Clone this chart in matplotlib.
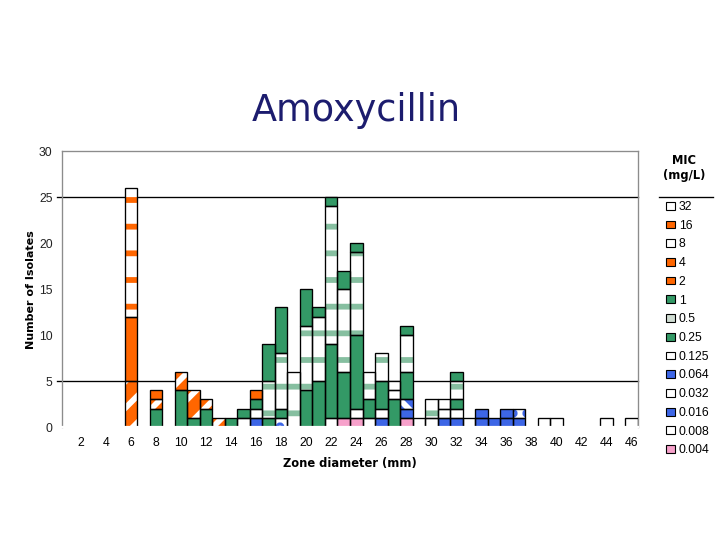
import matplotlib
matplotlib.use('Agg')
import matplotlib.pyplot as plt
from matplotlib.patches import Patch
from matplotlib.lines import Line2D
import numpy as np

# ---------------- data ----------------
zones = list(range(1, 47))
xtick_labels = list(range(2, 47, 2))
mic_labels = ['0.004', '0.008', '0.016', '0.032', '0.064', '0.125', '0.25',
              '0.5', '1', '2', '4', '8', '16', '32']

#            z: 1  2  3  4  5  6  7  8  9 10 11 12 13 14 15 16 17 18 19 20 21 22 23 24 25 26 27 28 29 30 31 32 33 34 35 36 37 38 39 40 41 42 43 44 45 46
mic_0_004 = [0, 0, 0, 0, 0, 0, 0, 0, 0, 0, 0, 0, 0, 0, 0, 0, 0, 0, 0, 0, 0, 0, 1, 1, 0, 0, 0, 1, 0, 0, 0, 0, 0, 0, 0, 0, 0, 0, 0, 0, 0, 0, 0, 0, 0, 0]
mic_0_008 = [0, 0, 0, 0, 0, 0, 0, 0, 0, 0, 0, 0, 0, 0, 0, 0, 0, 0, 0, 0, 0, 0, 0, 1, 0, 0, 0, 0, 0, 0, 0, 0, 1, 0, 0, 0, 0, 0, 1, 1, 0, 0, 0, 1, 0, 1]
mic_0_016 = [0, 0, 0, 0, 0, 0, 0, 0, 0, 0, 0, 0, 0, 0, 0, 1, 0, 0, 0, 0, 0, 0, 0, 0, 0, 0, 0, 1, 0, 0, 1, 1, 0, 1, 1, 1, 1, 0, 0, 0, 0, 0, 0, 0, 0, 0]
mic_0_032 = [0, 0, 0, 0, 0, 0, 0, 0, 0, 0, 0, 0, 0, 0, 0, 0, 0, 1, 0, 0, 0, 0, 0, 0, 0, 0, 0, 0, 0, 0, 0, 0, 0, 0, 0, 0, 1, 0, 0, 0, 0, 0, 0, 0, 0, 0]
mic_0_064 = [0, 0, 0, 0, 0, 0, 0, 0, 0, 0, 0, 0, 0, 0, 0, 0, 0, 0, 0, 0, 0, 0, 0, 0, 0, 1, 0, 1, 0, 0, 0, 0, 0, 1, 0, 1, 0, 0, 0, 0, 0, 0, 0, 0, 0, 0]
mic_0_125 = [0, 0, 0, 0, 0, 0, 0, 0, 0, 0, 0, 0, 0, 0, 1, 1, 0, 0, 0, 0, 0, 1, 0, 0, 1, 1, 0, 0, 1, 1, 1, 1, 0, 0, 0, 0, 0, 0, 0, 0, 0, 0, 0, 0, 0, 0]
mic_0_25  = [0, 0, 0, 0, 0, 0, 0, 0, 0, 0, 0, 0, 0, 0, 0, 1, 1, 1, 0, 4, 5, 8, 5, 8, 2, 3, 3, 3, 0, 0, 0, 1, 0, 0, 0, 0, 0, 0, 0, 0, 0, 0, 0, 0, 0, 0]
mic_0_5   = [0, 0, 0, 0, 0, 0, 0, 0, 0, 0, 0, 0, 0, 0, 0, 0, 4, 6, 6, 7, 7, 15, 9, 9, 3, 3, 1, 4, 0, 2, 1, 2, 0, 0, 0, 0, 0, 0, 0, 0, 0, 0, 0, 0, 0, 0]
mic_1     = [0, 0, 0, 0, 0, 0, 0, 2, 0, 4, 1, 2, 0, 1, 1, 0, 4, 5, 0, 4, 1, 1, 2, 1, 0, 0, 0, 1, 0, 0, 0, 1, 0, 0, 0, 0, 0, 0, 0, 0, 0, 0, 0, 0, 0, 0]
mic_2     = [0, 0, 0, 0, 0, 5, 0, 1, 0, 2, 3, 1, 1, 0, 0, 0, 0, 0, 0, 0, 0, 0, 0, 0, 0, 0, 0, 0, 0, 0, 0, 0, 0, 0, 0, 0, 0, 0, 0, 0, 0, 0, 0, 0, 0, 0]
mic_4     = [0, 0, 0, 0, 0, 0, 0, 1, 0, 0, 0, 0, 0, 0, 0, 1, 0, 0, 0, 0, 0, 0, 0, 0, 0, 0, 0, 0, 0, 0, 0, 0, 0, 0, 0, 0, 0, 0, 0, 0, 0, 0, 0, 0, 0, 0]
mic_8     = [0, 0, 0, 0, 0, 0, 0, 0, 0, 0, 0, 0, 0, 0, 0, 0, 0, 0, 0, 0, 0, 0, 0, 0, 0, 0, 1, 0, 0, 0, 0, 0, 0, 0, 0, 0, 0, 0, 0, 0, 0, 0, 0, 0, 0, 0]
mic_16    = [0, 0, 0, 0, 0, 7, 0, 0, 0, 0, 0, 0, 0, 0, 0, 0, 0, 0, 0, 0, 0, 0, 0, 0, 0, 0, 0, 0, 0, 0, 0, 0, 0, 0, 0, 0, 0, 0, 0, 0, 0, 0, 0, 0, 0, 0]
mic_32    = [0, 0, 0, 0, 0, 14, 0, 0, 0, 0, 0, 0, 0, 0, 0, 0, 0, 0, 0, 0, 0, 0, 0, 0, 0, 0, 0, 0, 0, 0, 0, 0, 0, 0, 0, 0, 0, 0, 0, 0, 0, 0, 0, 0, 0, 0]

series = [mic_0_004, mic_0_008, mic_0_016, mic_0_032, mic_0_064, mic_0_125,
          mic_0_25, mic_0_5, mic_1, mic_2, mic_4, mic_8, mic_16, mic_32]

# ---------------- styles ----------------
GREEN = '#339966'
ORANGE = '#FF6600'
BLUE = '#3D66E6'
PINK = '#F7A1CB'
CHECK = '#86BFA0'
# face colour, hatch, hatch colour, legend swatch colour
styles = {
    '0.004': (PINK, None, PINK, PINK),
    '0.008': ('white', None, 'white', 'white'),
    '0.016': (BLUE, None, BLUE, BLUE),
    '0.032': ('white', '..', BLUE, 'white'),
    '0.064': (BLUE, '\\', 'white', BLUE),
    '0.125': ('white', None, 'white', 'white'),
    '0.25': (GREEN, None, GREEN, GREEN),
    '0.5': ('white', '-', CHECK, '#CFDCD2'),
    '1': (GREEN, None, GREEN, GREEN),
    '2': (ORANGE, '//', 'white', ORANGE),
    '4': (ORANGE, None, ORANGE, ORANGE),
    '8': ('white', None, 'white', 'white'),
    '16': (ORANGE, None, ORANGE, ORANGE),
    '32': ('white', '-', ORANGE, 'white'),
}

plt.rcParams['hatch.linewidth'] = 2.6
plt.rcParams['font.family'] = ['DejaVu Sans']

fig = plt.figure(figsize=(4.5, 3.375), dpi=160)
ax = fig.add_axes([62 / 720, 1 - 427 / 540, 576 / 720, 276 / 540])

x = np.array(zones)
bottom = np.zeros(len(zones))
for lab, vals in zip(mic_labels, series):
    v = np.array(vals, dtype=float)
    m = v > 0
    face, hatch, hc, _ = styles[lab]
    if m.any():
        ax.bar(x[m], v[m], width=1.0, bottom=bottom[m], color=face,
               edgecolor=hc, hatch=hatch, linewidth=0, zorder=2)
        ax.bar(x[m], v[m], width=1.0, bottom=bottom[m], facecolor='none',
               edgecolor='black', linewidth=0.6, zorder=3)
    bottom += v

# gridlines at 5 and 25 (behind bars)
for yv in (5, 25):
    ax.axhline(yv, xmin=-0.008, xmax=1, color='black', linewidth=0.6,
               zorder=1, clip_on=False)

ax.set_xlim(0.5, 46.5)
ax.set_ylim(0, 30)
ax.set_xticks(xtick_labels)
ax.set_xticklabels([str(t) for t in xtick_labels])
ax.set_yticks(range(0, 31, 5))
ax.tick_params(axis='both', length=0, labelsize=5.5)
ax.tick_params(axis='y', pad=4.2, labelcolor='#222222')
ax.tick_params(axis='x', pad=4.5)
for lbl in ax.get_xticklabels() + ax.get_yticklabels():
    lbl.set_fontfamily('Liberation Sans')

for s in ('left', 'top', 'right'):
    ax.spines[s].set_color('#8C8C8C')
    ax.spines[s].set_linewidth(0.6)
ax.spines['bottom'].set_color('white')
ax.spines['bottom'].set_linewidth(1.0)
ax.spines['bottom'].set_zorder(4)

# titles
fig.text(356 / 720, 1 - 111 / 540, 'Amoxycillin', ha='center', va='center',
         fontsize=16.5, color='#1C1C6E')
fig.text(31 / 720, 1 - 290 / 540, 'Number of Isolates', rotation=90,
         ha='center', va='center', fontsize=5.0, fontweight='bold')
fig.text(350 / 720, 1 - 463 / 540, 'Zone diameter (mm)', ha='center',
         va='center', fontsize=5.2, fontweight='bold')

# legend
fig.text(684 / 720, 1 - 160 / 540, 'MIC', ha='center', va='center',
         fontsize=5.2, fontweight='bold')
fig.text(684 / 720, 1 - 175 / 540, '(mg/L)', ha='center', va='center',
         fontsize=5.2, fontweight='bold')
fig.add_artist(Line2D([659 / 720, 713 / 720], [1 - 197 / 540, 1 - 197 / 540],
                      transform=fig.transFigure, color='black', linewidth=0.6))

handles = [Patch(facecolor=styles[l][3], edgecolor='black', linewidth=0.5,
                 label=l) for l in reversed(mic_labels)]
ax.legend(handles=handles, loc='upper left',
          bbox_to_anchor=(666 / 720, 1 - 201 / 540),
          bbox_transform=fig.transFigure, frameon=False,
          prop={'family': 'Liberation Sans', 'size': 5.5},
          handlelength=0.7, handleheight=0.6, handletextpad=0.35,
          labelspacing=0.55, borderpad=0, borderaxespad=0)

fig.savefig('out.png', dpi=160)
